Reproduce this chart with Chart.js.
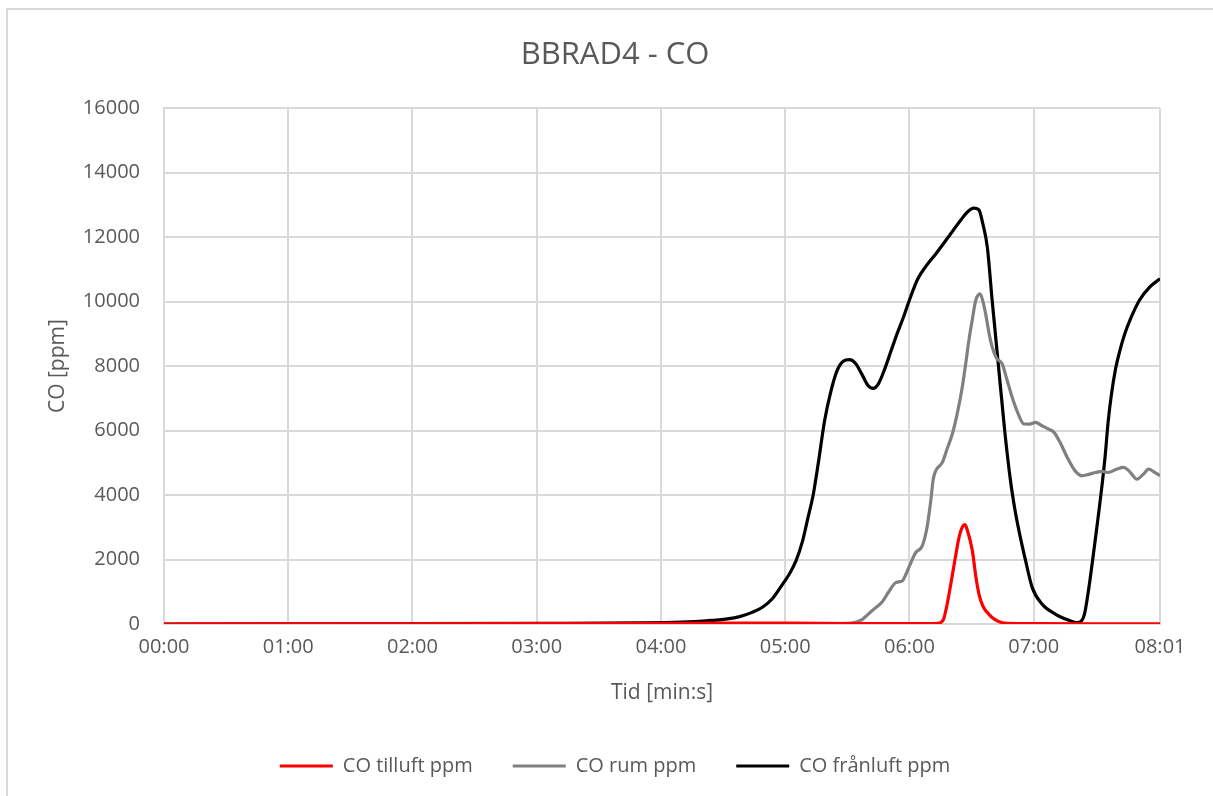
<!DOCTYPE html>
<html lang="sv">
<head>
<meta charset="utf-8">
<title>BBRAD4 - CO</title>
<script src="https://cdn.jsdelivr.net/npm/chart.js@4/dist/chart.umd.min.js"></script>
<style>
  html, body { margin: 0; padding: 0; background: #ffffff; }
  #wrap { position: relative; width: 1213px; height: 796px; overflow: hidden; }
  #frame { position: absolute; left: 6px; top: 8px; right: -4px; bottom: -4px;
           border-left: 2px solid #d9d9d9; border-top: 2px solid #d9d9d9; pointer-events: none; }
  canvas { position: absolute; left: 0; top: 0; }
</style>
</head>
<body>
<div id="wrap">
  <canvas id="chart" width="1213" height="796"></canvas>
  <div id="frame"></div>
</div>
<script>
// Time axis in seconds from start (mm:ss labels)
const tickSeconds = [0, 60, 120, 180, 240, 300, 360, 420, 481];
const yTicks = [0, 2000, 4000, 6000, 8000, 10000, 12000, 14000, 16000];

// CO tilluft ppm
const tTilluft = [0, 60, 120, 180, 240, 270, 300, 330, 360, 372, 375, 376.5, 378, 380, 382, 384, 385.5, 386.8, 388, 390.4, 392, 393.6, 395.5, 398.4, 401, 404.8, 408, 420, 450, 481];
const coTilluft = [0, 5, 5, 10, 20, 25, 25, 15, 10, 10, 40, 150, 550, 1250, 2000, 2700, 3000, 3080, 2900, 2268, 1500, 922, 550, 300, 150, 40, 20, 10, 5, 5];

// CO rum ppm
const tRum = [0, 60, 120, 180, 240, 300, 320, 330, 334, 337.3, 340, 343.7, 347, 350, 353.4, 356.6, 358, 360, 363, 366.2, 368.5, 370.3, 371.5, 372.7, 375.9, 378, 380.7, 383, 385.5, 387, 388.7, 390.5, 392, 394.1, 395.5, 396.8, 398.5, 400, 402, 404.8, 407, 409.6, 412, 415.3, 418, 420.9, 424, 427, 429.8, 433, 436.2, 440, 443.4, 447, 450, 453, 456, 460, 463.5, 466, 469.9, 473, 475.6, 478, 481];
const coRum = [0, 0, 0, 0, 0, 0, 10, 20, 50, 145, 300, 507, 700, 1000, 1284, 1336, 1500, 1800, 2216, 2423, 3000, 3821, 4500, 4753, 5012, 5400, 5893, 6500, 7342, 8000, 8792, 9500, 10034, 10241, 10000, 9621, 9000, 8584, 8250, 8066, 7600, 7031, 6600, 6204, 6200, 6255, 6150, 6050, 5944, 5600, 5168, 4750, 4598, 4650, 4700, 4733, 4700, 4800, 4857, 4750, 4494, 4650, 4805, 4720, 4598];

// CO frånluft ppm
const tFranluft = [0, 60, 120, 180, 230, 250, 262, 272, 278, 284, 289, 294, 298.7, 302, 305.2, 308.4, 311, 313.5, 316, 319, 322, 325, 328, 331, 334, 337, 340, 342.5, 345, 348, 351, 354, 357, 360, 364, 368, 372.7, 377, 381, 385, 388, 391, 393.5, 395.5, 397.6, 400, 403, 406, 408.8, 410.8, 412.9, 416, 419.3, 424.1, 430.6, 437, 441, 443, 444.5, 446.6, 448.3, 449.9, 451.5, 453, 454.5, 456, 457.5, 459.5, 461.5, 464, 467, 471, 476, 481];
const coFranluft = [0, 5, 10, 20, 35, 60, 100, 160, 230, 360, 520, 800, 1232, 1550, 1957, 2578, 3300, 4000, 5000, 6300, 7200, 7850, 8150, 8200, 8080, 7750, 7400, 7310, 7450, 7900, 8450, 9000, 9500, 10050, 10700, 11100, 11480, 11850, 12200, 12550, 12780, 12900, 12850, 12400, 11690, 10000, 8000, 6000, 4442, 3600, 2889, 1988, 1128, 612, 300, 115, 40, 90, 300, 1100, 1900, 2700, 3500, 4300, 5200, 6300, 7100, 7900, 8450, 9000, 9500, 10034, 10450, 10708];

const seriesNames = ['CO tilluft ppm', 'CO rum ppm', 'CO frånluft ppm'];
const seriesColors = ['#ff0000', '#808080', '#000000'];

const toPoints = (ts, vs) => ts.map((t, i) => ({ x: t, y: vs[i] }));

function mmss(sec) {
  const m = Math.floor(sec / 60);
  const s = Math.round(sec - m * 60);
  return String(m).padStart(2, '0') + ':' + String(s).padStart(2, '0');
}

const textColor = '#595959';
const gridColor = '#d9d9d9';
const fontFamily = "'Open Sans', 'Noto Sans', sans-serif";

const datasets = [
  toPoints(tTilluft, coTilluft),
  toPoints(tRum, coRum),
  toPoints(tFranluft, coFranluft)
].map((pts, i) => ({
  label: seriesNames[i],
  data: pts,
  borderColor: seriesColors[i],
  backgroundColor: seriesColors[i],
  borderWidth: 3.2,
  pointRadius: 0,
  pointHoverRadius: 0,
  cubicInterpolationMode: 'monotone',
  fill: false
}));

new Chart(document.getElementById('chart'), {
  type: 'line',
  data: { datasets },
  options: {
    responsive: false,
    animation: false,
    layout: { padding: { left: 17, right: 0, top: 0, bottom: 10 } },
    plugins: {
      title: {
        display: true,
        text: 'BBRAD4 - CO',
        color: textColor,
        font: { family: fontFamily, size: 31, weight: 'normal' },
        padding: { top: 37, bottom: 34 }
      },
      legend: {
        position: 'bottom',
        labels: {
          color: textColor,
          font: { family: fontFamily, size: 20 },
          boxWidth: 53,
          boxHeight: 3,
          padding: 40,
          generateLabels: (chart) => chart.data.datasets.map((ds, i) => ({
            text: ds.label,
            fillStyle: ds.borderColor,
            strokeStyle: ds.borderColor,
            lineWidth: 0,
            hidden: false,
            datasetIndex: i,
            fontColor: textColor
          }))
        }
      },
      tooltip: { enabled: false }
    },
    scales: {
      x: {
        type: 'linear',
        min: tickSeconds[0],
        max: tickSeconds[tickSeconds.length - 1],
        afterBuildTicks: (scale) => { scale.ticks = tickSeconds.map(v => ({ value: v })); },
        afterFit: (scale) => { scale.height = 92; scale.paddingRight = 53; },
        grid: { color: gridColor, lineWidth: 2, drawTicks: false },
        border: { color: gridColor, width: 2 },
        ticks: {
          color: textColor,
          font: { family: fontFamily, size: 20 },
          padding: 11,
          maxRotation: 0,
          autoSkip: false,
          callback: (v) => mmss(v)
        },
        title: {
          display: true,
          text: 'Tid [min:s]',
          color: textColor,
          font: { family: fontFamily, size: 21 },
          padding: { top: 0, bottom: 10 }
        }
      },
      y: {
        min: yTicks[0],
        max: yTicks[yTicks.length - 1],
        afterBuildTicks: (scale) => { scale.ticks = yTicks.map(v => ({ value: v })); },
        afterFit: (scale) => { scale.width = 147; },
        grid: { color: gridColor, lineWidth: 2, drawTicks: false },
        border: { color: gridColor, width: 2 },
        ticks: {
          color: textColor,
          font: { family: fontFamily, size: 20 },
          padding: 24,
          callback: (v) => String(v)
        },
        title: {
          display: true,
          text: 'CO [ppm]',
          color: textColor,
          font: { family: fontFamily, size: 21 },
          padding: { top: 28, bottom: 0 }
        }
      }
    }
  }
});
</script>
</body>
</html>
